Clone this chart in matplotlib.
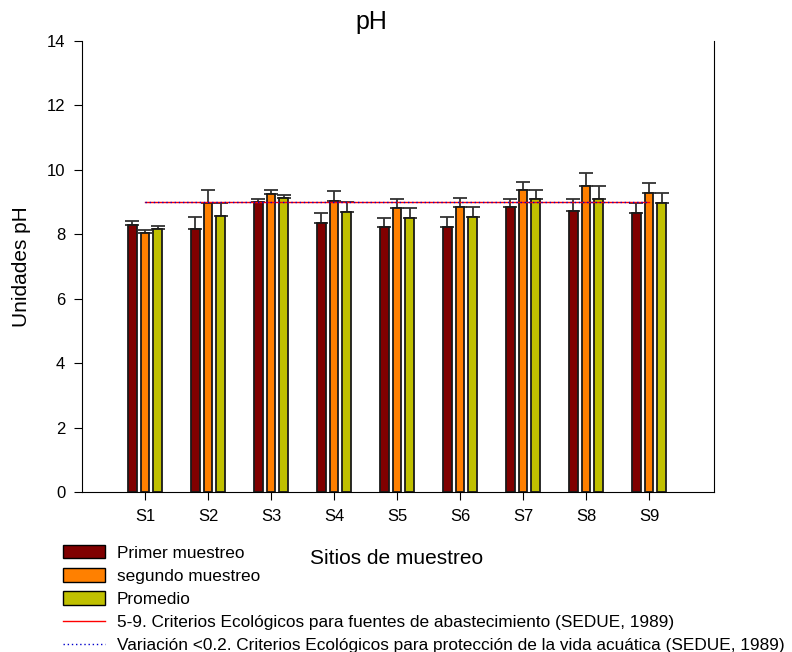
# pH por sitio de muestreo
import matplotlib.pyplot as plt
import numpy as np
from matplotlib.patches import Patch
from matplotlib.lines import Line2D

plt.rcParams["font.family"] = ["Liberation Sans", "DejaVu Sans"]

sitios = ["S1", "S2", "S3", "S4", "S5", "S6", "S7", "S8", "S9"]
primer = [8.29, 8.16, 9.00, 8.36, 8.23, 8.24, 8.86, 8.73, 8.67]
primer_err = [0.13, 0.39, 0.11, 0.31, 0.29, 0.29, 0.25, 0.38, 0.31]
segundo = [8.03, 8.97, 9.25, 9.02, 8.83, 8.85, 9.37, 9.51, 9.29]
segundo_err = [0.11, 0.39, 0.12, 0.31, 0.28, 0.29, 0.25, 0.40, 0.31]
promedio = [8.16, 8.56, 9.12, 8.69, 8.52, 8.54, 9.11, 9.11, 8.98]
promedio_err = [0.11, 0.40, 0.11, 0.31, 0.30, 0.30, 0.25, 0.40, 0.31]
limite = 9.0

x = np.arange(1, len(sitios) + 1)
w = 0.135
off = 0.2

fig = plt.figure(figsize=(7.92, 6.52), dpi=100)
ax = fig.add_axes([0.1035, 0.2454, 0.798, 0.6917])

series = [
    (primer, primer_err, "#800000", "Primer muestreo"),
    (segundo, segundo_err, "#ff8000", "segundo muestreo"),
    (promedio, promedio_err, "#c0c000", "Promedio"),
]
for i, (vals, err, col, lab) in enumerate(series):
    xs = x + (i - 1) * off
    ax.bar(xs, vals, width=w, color=col, edgecolor="#1a1a1a", linewidth=1.3, zorder=2)
    ax.errorbar(xs, vals, yerr=[np.zeros(len(vals)), err], fmt="none",
                ecolor="#333333", elinewidth=1.3, capsize=5, capthick=1.3, zorder=1)

ax.plot([x[0], x[-1]], [limite, limite], color="red", linewidth=1.0, zorder=3)
ax.plot([x[0], x[-1]], [limite, limite], color="#0000cc", linewidth=1.0,
        linestyle=(0, (1, 2)), zorder=4)

ax.set_xlim(0, 10.03)
ax.set_ylim(0, 14)
ax.set_xticks(x)
ax.set_xticklabels(sitios)
ax.set_yticks(np.arange(0, 15, 2))
ax.tick_params(axis="both", direction="out", length=6, labelsize=12, pad=6)
ax.spines["top"].set_visible(False)
ax.set_ylabel("Unidades pH", fontsize=15, labelpad=11)

fig.text(0.469, 0.966, "pH", fontsize=18, ha="center", va="center")
fig.text(0.501, 0.144, "Sitios de muestreo", fontsize=15, ha="center", va="center")

handles = [
    Patch(facecolor="#800000", edgecolor="black"),
    Patch(facecolor="#ff8000", edgecolor="black"),
    Patch(facecolor="#c0c000", edgecolor="black"),
    Line2D([], [], color="red", linewidth=1.0),
    Line2D([], [], color="#0000cc", linewidth=1.0, linestyle=(0, (1, 2))),
]
labels = [s[3] for s in series] + [
    "5-9. Criterios Ecológicos para fuentes de abastecimiento (SEDUE, 1989)",
    "Variación <0.2. Criterios Ecológicos para protección de la vida acuática (SEDUE, 1989)",
]
fig.legend(handles, labels, loc="upper left", bbox_to_anchor=(0.069, 0.177),
           frameon=False, fontsize=12.45, handlelength=2.4, handleheight=0.8,
           labelspacing=0.43, borderpad=0, handletextpad=0.7)

fig.savefig("out.png", dpi=100)
